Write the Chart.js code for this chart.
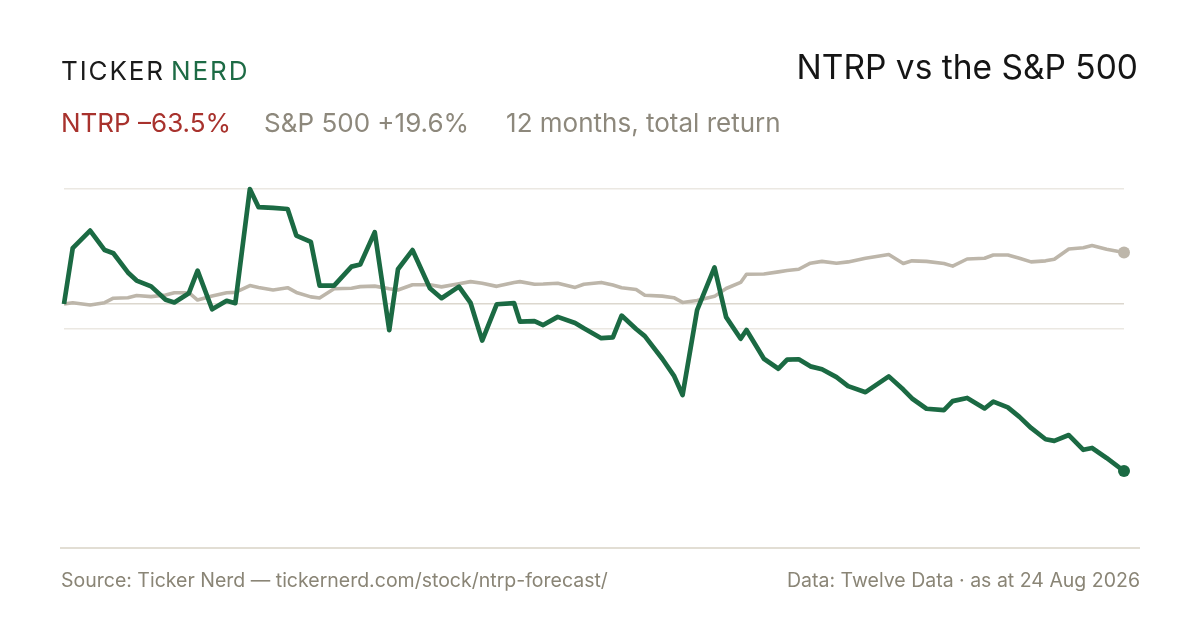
<!DOCTYPE html>
<html>
<head>
<meta charset="utf-8">
<script src="https://cdn.jsdelivr.net/npm/chart.js@4.4.1/dist/chart.umd.min.js"></script>
<style>
  html, body { margin: 0; padding: 0; background: #fff; }
  body { width: 1200px; height: 630px; position: relative; overflow: hidden; font-family: Inter, "Liberation Sans", sans-serif; }
  #chart { position: absolute; left: 0; top: 0; }
  .logo { position: absolute; left: 61px; top: 55px; font-size: 26px; letter-spacing: 1.9px; color: #1b1b1b; white-space: nowrap; }
  .logo .nerd { color: #1d6b45; margin-left: 6px; }
  .title { position: absolute; right: 62px; top: 47px; font-size: 33.5px; color: #151515; white-space: nowrap; }
  .sub { position: absolute; left: 61px; top: 107px; font-size: 26px; color: #8d887c; white-space: nowrap; }
  .sub .ntrp { color: #a8322d; margin-right: 33px; }
  .sub .spx { margin-right: 37px; }
  .rule { position: absolute; left: 60px; top: 547px; width: 1080px; height: 2px; background: #e2ded4; }
  .foot { position: absolute; top: 568.3px; font-size: 19.5px; color: #8a8576; white-space: nowrap; }
</style>
</head>
<body>
<canvas id="chart" width="1200" height="630"></canvas>
<div class="logo">TICKER<span class="nerd">NERD</span></div>
<div class="title">NTRP vs the S&amp;P 500</div>
<div class="sub"><span class="ntrp">NTRP –63.5%</span><span class="spx">S&amp;P 500 +19.6%</span><span>12 months, total return</span></div>
<div class="rule"></div>
<div class="foot" style="left:61px">Source: Ticker Nerd — tickernerd.com/stock/ntrp-forecast/</div>
<div class="foot" style="right:60px">Data: Twelve Data · as at 24 Aug 2026</div>
<script>
// days since start of the 12-month window
const days = [0, 3, 9, 14, 17, 22, 25, 30, 35, 38, 43, 46, 51, 56, 59, 64, 67, 72, 77, 80,
  85, 88, 93, 99, 102, 107, 112, 115, 120, 126, 130, 136, 140, 144, 149, 155, 157, 162, 165, 170,
  176, 179, 185, 189, 192, 197, 200, 206, 210, 213, 218, 224, 228, 233, 235, 241, 246, 249, 253, 257,
  261, 266, 270, 276, 284, 289, 292, 297, 303, 306, 311, 317, 320, 325, 329, 333, 338, 341, 346, 351,
  354, 359, 365];

// total return, %
const ntrp = [0, 21.2, 27.9, 20.5, 19.3, 12.0, 8.9, 6.7, 1.6, 0.6, 4.1, 12.7, -2.0, 1.2, 0.3, 43.7, 36.8, 36.5, 36.1, 26.0,
  23.6, 7.0, 7.0, 14.2, 15.0, 27.3, -9.9, 13.2, 20.5, 6.0, 2.2, 6.6, 0.4, -13.9, -0.1, 0.3, -6.7, -6.5, -8.0, -4.9,
  -7.2, -9.2, -13.0, -12.7, -4.4, -9.5, -12.2, -20.8, -27.2, -34.6, -2.3, 13.9, -5.0, -13.2, -9.9, -20.8, -24.6, -21.1, -21.0, -23.7,
  -24.8, -27.8, -31.2, -33.5, -27.5, -32.5, -35.9, -39.8, -40.3, -36.9, -35.7, -39.7, -37.1, -39.3, -42.9, -47.1, -51.4, -52.0, -49.8, -55.4,
  -54.7, -58.5, -63.5];

const spx = [0, 0.5, -0.4, 0.5, 2.2, 2.4, 3.2, 2.8, 3.4, 4.3, 4.3, 1.5, 3.0, 4.3, 4.4, 7.0, 6.3, 5.3, 6.2, 4.4,
  2.7, 2.3, 5.8, 6.0, 6.6, 6.8, 5.8, 5.3, 7.3, 7.3, 6.5, 7.7, 8.5, 7.9, 6.7, 8.2, 8.5, 7.5, 7.6, 7.9,
  6.3, 7.5, 8.2, 7.2, 6.2, 5.5, 3.3, 3.0, 2.4, 0.6, 1.3, 2.9, 5.9, 8.2, 11.3, 11.4, 12.2, 12.7, 13.2, 15.5,
  16.2, 15.5, 16.0, 17.4, 18.8, 15.4, 16.4, 16.2, 15.4, 14.4, 17.1, 17.4, 18.6, 18.6, 17.4, 16.0, 16.4, 17.0, 20.9, 21.4,
  22.2, 20.8, 19.6];

// gridlines
const gridValues = [43.7, 0, -9.5];

const green = "#1b6a43";
const sand = "#bdb6aa";

function pts(vals) {
    return vals.map((v, i) => ({ x: days[i], y: v }));
}

function lastOnly(r) {
    return ctx => ctx.dataIndex === days.length - 1 ? r : 0;
}

const ctx = document.getElementById("chart").getContext("2d");

new Chart(ctx, {
    type: "line",
    data: {
        datasets: [
            {
                label: "NTRP",
                data: pts(ntrp),
                borderColor: green,
                backgroundColor: green,
                borderWidth: 4.7,
                pointRadius: lastOnly(6),
                pointBorderWidth: 0,
                borderJoinStyle: "round",
                tension: 0,
                clip: false
            },
            {
                label: "S&P 500",
                data: pts(spx),
                borderColor: sand,
                backgroundColor: sand,
                borderWidth: 3.6,
                pointRadius: lastOnly(6),
                pointBorderWidth: 0,
                borderJoinStyle: "round",
                tension: 0,
                clip: false
            }
        ]
    },
    options: {
        responsive: false,
        animation: false,
        layout: { padding: { left: 64, right: 76, top: 179, bottom: 151 } },
        plugins: { legend: { display: false }, tooltip: { enabled: false } },
        scales: {
            x: { type: "linear", min: 0, max: 365, display: false },
            y: {
                min: -66.5,
                max: 47.5,
                border: { display: false },
                ticks: { display: false },
                afterBuildTicks: s => { s.ticks = gridValues.map(v => ({ value: v })); },
                afterFit: s => { s.width = 0; },
                grid: {
                    drawTicks: false,
                    lineWidth: 1.5,
                    color: c => c.tick && c.tick.value === 0 ? "#dcd7ce" : "#ebe8e2"
                }
            }
        }
    }
});
</script>
</body>
</html>
